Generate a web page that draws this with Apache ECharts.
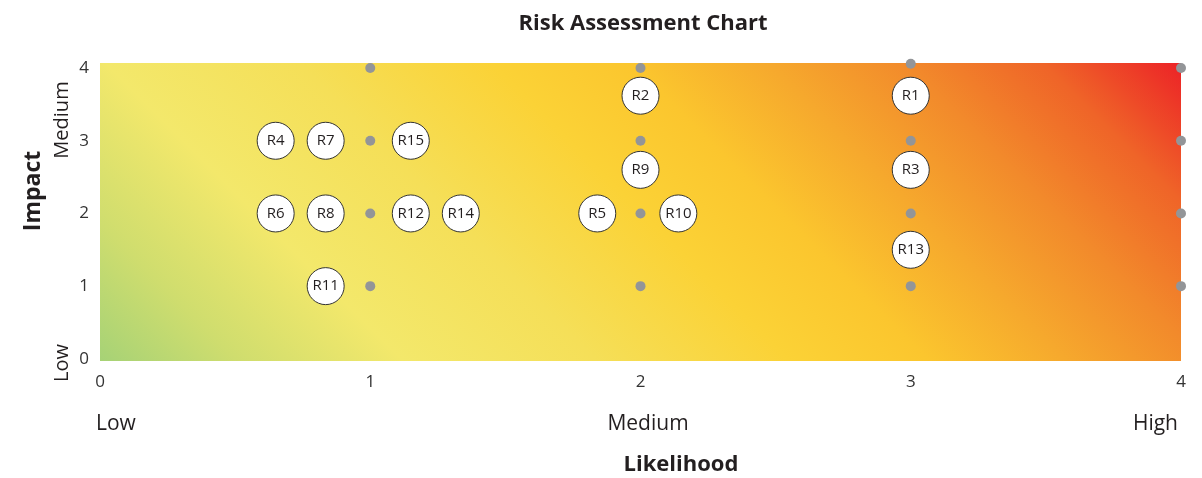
<!DOCTYPE html>
<html><head><meta charset="utf-8">
<script src="https://cdn.jsdelivr.net/npm/echarts@6/dist/echarts.min.js"></script>
<style>html,body{margin:0;padding:0;background:#fff}#c{width:1202px;height:478px}</style>
</head><body><div id="c"></div>
<script>
// ---- data ----
const riskNames      = ['R1','R2','R3','R4','R5','R6','R7','R8','R9','R10','R11','R12','R13','R14','R15'];
const riskLikelihood = [3.0, 2.0, 3.0, 0.65, 1.84, 0.65, 0.835, 0.835, 2.0, 2.14, 0.835, 1.15, 3.0, 1.335, 1.15];
const riskImpact     = [3.62, 3.62, 2.6, 3, 2, 2, 3, 2, 2.6, 2, 1, 2, 1.5, 2, 3];
const refDotX = [1,1,1,1, 2,2,2,2, 3,3,3,3, 4,4,4,4];
const refDotY = [4,3,2,1, 4,3,2,1, 4.06,3,2,1, 4,3,2,1];
const axisTicks = [0,1,2,3,4];
const likelihoodLevels = ['Low','Medium','High'];
const impactLevels = ['Low','Medium'];
const titleText = 'Risk Assessment Chart';
const xTitle = 'Likelihood';
const yTitle = 'Impact';

const FONT = '"Open Sans", sans-serif';
const chart = echarts.init(document.getElementById('c'));

const bg = new echarts.graphic.LinearGradient(0, 1, 0.638, -1.315, [
  {offset: 0.00, color: '#a6d276'},
  {offset: 0.10, color: '#cfdd6e'},
  {offset: 0.22, color: '#f3e86b'},
  {offset: 0.36, color: '#f5df58'},
  {offset: 0.50, color: '#fbd236'},
  {offset: 0.60, color: '#fbc62e'},
  {offset: 0.70, color: '#f6a92d'},
  {offset: 0.80, color: '#f28a2b'},
  {offset: 0.90, color: '#ef6428'},
  {offset: 1.00, color: '#ec2227'}
]);

const txt = (text, x, y, opts) => ({
  type: 'text', x: x, y: y, rotation: opts.rot || 0,
  style: {text: text, font: opts.font, fill: '#231f20',
    textAlign: opts.align || 'center', align: opts.align || 'center',
    textVerticalAlign: 'middle', verticalAlign: 'middle'}
});

chart.setOption({
  animation: false,
  title: {text: titleText, left: 638, top: 8, textAlign: 'center',
    textStyle: {fontFamily: FONT, fontSize: 22, fontWeight: 'bold', color: '#231f20'}},
  grid: {left: 100, right: 21, top: 63, bottom: 117, show: true, borderWidth: 0, backgroundColor: bg},
  xAxis: {type: 'value', min: 0, max: 4, interval: 1,
    axisLine: {show: false}, axisTick: {show: false}, splitLine: {show: false},
    axisLabel: {color: '#333', fontSize: 17, fontFamily: FONT, margin: 13, customValues: axisTicks}},
  yAxis: {type: 'value', min: -0.03, max: 4.07,
    axisLine: {show: false}, axisTick: {show: false}, splitLine: {show: false},
    axisLabel: {color: '#333', fontSize: 17, fontFamily: FONT, margin: 11, customValues: axisTicks}},
  series: [
    {type: 'scatter', symbolSize: 10, itemStyle: {color: '#939598', opacity: 1},
     data: refDotX.map((x, i) => [x, refDotY[i]]), z: 2, silent: true},
    {type: 'scatter', symbolSize: 37, z: 3,
     itemStyle: {color: '#ffffff', borderColor: '#333', borderWidth: 1, opacity: 1},
     label: {show: true, position: 'inside', formatter: p => p.name,
       color: '#231f20', fontSize: 15, fontFamily: FONT},
     data: riskNames.map((n, i) => ({name: n, value: [riskLikelihood[i], riskImpact[i]]}))}
  ]
});

chart.setOption({
  graphic: [
    txt(yTitle, 33, 191, {rot: Math.PI/2, font: 'bold 23px ' + FONT}),
    txt(impactLevels[1], 62, 120, {rot: Math.PI/2, font: '20px ' + FONT}),
    txt(impactLevels[0], 62, 363, {rot: Math.PI/2, font: '20px ' + FONT}),
    txt(likelihoodLevels[0], 96, 424, {align: 'left', font: '21px ' + FONT}),
    txt(likelihoodLevels[1], 648, 424, {font: '21px ' + FONT}),
    txt(likelihoodLevels[2], 1178, 424, {align: 'right', font: '21px ' + FONT}),
    txt(xTitle, 681, 465, {font: 'bold 22px ' + FONT})
  ]
});
</script></body></html>
